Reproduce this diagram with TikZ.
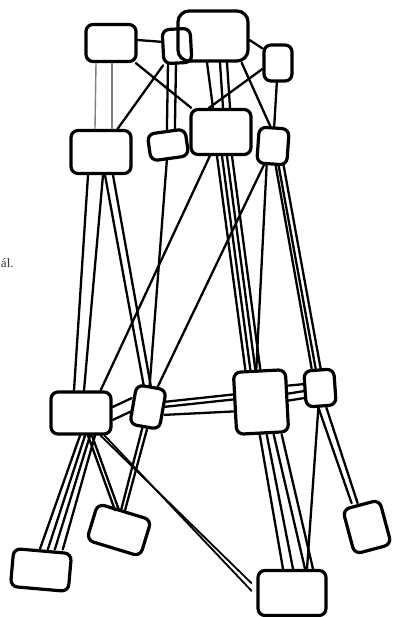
\documentclass[tikz,border=0pt]{standalone}
\usepackage{fontspec}
\setmainfont{Liberation Serif}
\usepackage{tikz}
\usetikzlibrary{positioning, calc}
\tikzset{
  blob/.style={draw, line width=3.2pt, rounded corners=7pt, inner sep=0pt},
  wire/.style={line width=2.3pt, line cap=round},
  ghost/.style={line width=1.4pt, draw=black!50, line cap=round},
}

\begin{document}
\begin{tikzpicture}[x=1pt, y=-1pt]
\useasboundingbox (0,0) rectangle (393,617);

% Top row
\node[blob, minimum width=50pt, minimum height=37pt] (A) at (111,43) {};
\node[blob, minimum width=28pt, minimum height=34pt, rotate=3] (B) at (177,46) {};
\node[blob, minimum width=70pt, minimum height=50pt, rounded corners=11pt] (C) at (213,36) {};
\node[blob, minimum width=28pt, minimum height=36pt] (D) at (278,63) {};

% Second row
\node[blob, minimum width=60pt, minimum height=43pt] (E) at (101,152) {};
\node[blob, minimum width=38pt, minimum height=27pt, rotate=8] (F) at (168,145) {};
\node[blob, minimum width=60pt, minimum height=45pt] (G) at (221,132) {};
\node[blob, minimum width=30pt, minimum height=36pt, rotate=-4] (H) at (273,146) {};

% Third row
\node[blob, minimum width=60pt, minimum height=42pt] (I) at (81,413) {};
\node[blob, minimum width=30pt, minimum height=40pt, rotate=-10] (J) at (148,407) {};
\node[blob, minimum width=52pt, minimum height=62pt, rotate=3] (K) at (261,402) {};
\node[blob, minimum width=30pt, minimum height=36pt, rotate=4] (L) at (320,388) {};

% Bottom row
\node[blob, minimum width=58pt, minimum height=38pt, rotate=-5] (M) at (41,570) {};
\node[blob, minimum width=56pt, minimum height=38pt, rotate=-17] (N) at (119,530) {};
\node[blob, minimum width=68pt, minimum height=45pt] (O) at (292,593) {};
\node[blob, minimum width=38pt, minimum height=46pt, rotate=15] (P) at (367,527) {};

\node[anchor=base west, font=\fontsize{13}{15}\selectfont, text=black!80,
      inner sep=0pt] (cap) at (0.8,267) {ál.};

% Links among the top two rows
\draw[wire] ([yshift=3pt]A.east) -- ([yshift=5pt]B.west);
\draw[wire] ([yshift=-4pt]C.east) -- ([yshift=-5pt]D.north west);
\foreach \a/\b in {-15/-6, 1/11}
  \draw[ghost] ([xshift=\a pt]A.south) -- ([xshift=\b pt]E.north);
\draw[wire] (A) -- (G);
\draw[wire] (B) -- (E);
\foreach \a/\b in {-10/1, -2/9}
  \draw[wire] ([xshift=\a pt]B.south) -- ([xshift=\b pt]F.north);
\foreach \a/\b in {-6/-8, 7/2, 14/9}
  \draw[wire] ([xshift=\a pt]C.south) -- ([xshift=\b pt]G.north);
\draw[wire] ([xshift=-8pt]C.south east) -- ([xshift=-4pt]H.north);
\draw[wire] ([yshift=-6pt]D.west) -- ([xshift=-12pt]G.north);
\draw[wire] (D) -- (H);

% Long links down to the third row
\foreach \a/\b in {-13/-7, 2/3}
  \draw[wire] ([xshift=\a pt]E.south) -- ([xshift=\b pt]I.north);
\foreach \a/\b in {4/-8, 12/-1}
  \draw[wire] ([xshift=\a pt]E.south) -- ([xshift=\b pt]J.north);
\draw[wire] (F) -- (J);
\draw[wire] (G) -- ([xshift=-12pt]I.north east);
\foreach \a/\b in {-4/-14, 1/-9, 6/-4, 11/1}
  \draw[wire] ([xshift=\a pt]G.south) -- ([xshift=\b pt]K.north);
\draw[wire] (H) -- (J);
\draw[wire] ([xshift=-5pt]H.south) -- ([xshift=-3pt]K.north);
\foreach \a/\b in {4/-7, 7/-3, 12/2}
  \draw[wire] ([xshift=\a pt]H.south) -- ([xshift=\b pt]L.north);

% Third row across
\foreach \s in {6,-7}
  \draw[wire] ([yshift=\s pt]I.east) -- ([yshift=\s pt]J.west);
\foreach \a/\b in {8/9, 3/4, -5/-8}
  \draw[wire] ([yshift=\a pt]J.east) -- ([yshift=\b pt]K.west);
\foreach \a/\b in {15/5, 7/-2, 0/-9}
  \draw[wire] ([yshift=\a pt]K.east) -- ([yshift=\b pt]L.west);

% Down to the bottom row
\foreach \a/\b in {-1/-3, 4/5, 9/12, 14/20}
  \draw[wire] ([xshift=\a pt]I.south) -- ([xshift=\b pt]M.north);
\foreach \a/\b in {7/-10, 11/-6}
  \draw[wire] ([xshift=\a pt]I.south) -- ([xshift=\b pt]N.north);
\foreach \a/\b in {-2/-4, 3/0}
  \draw[wire] ([xshift=\a pt]J.south) -- ([xshift=\b pt]N.north);
\foreach \a/\b in {-12/5, -8/-3}
  \draw[wire, line width=1.8pt, shorten >=7pt] ([xshift=\a pt]I.south east) -- ([yshift=\b pt]O.west);
\foreach \a/\b in {-3/-9, 4/1, 11/13, 19/21}
  \draw[wire] ([xshift=\a pt]K.south) -- ([xshift=\b pt]O.north);
\draw[wire] ([xshift=-3pt]L.south) -- ([xshift=15pt]O.north);
\foreach \a/\b in {-3/-9, 5/-3}
  \draw[wire] ([xshift=\a pt]L.south) -- ([xshift=\b pt]P.north);

\end{tikzpicture}
\end{document}
